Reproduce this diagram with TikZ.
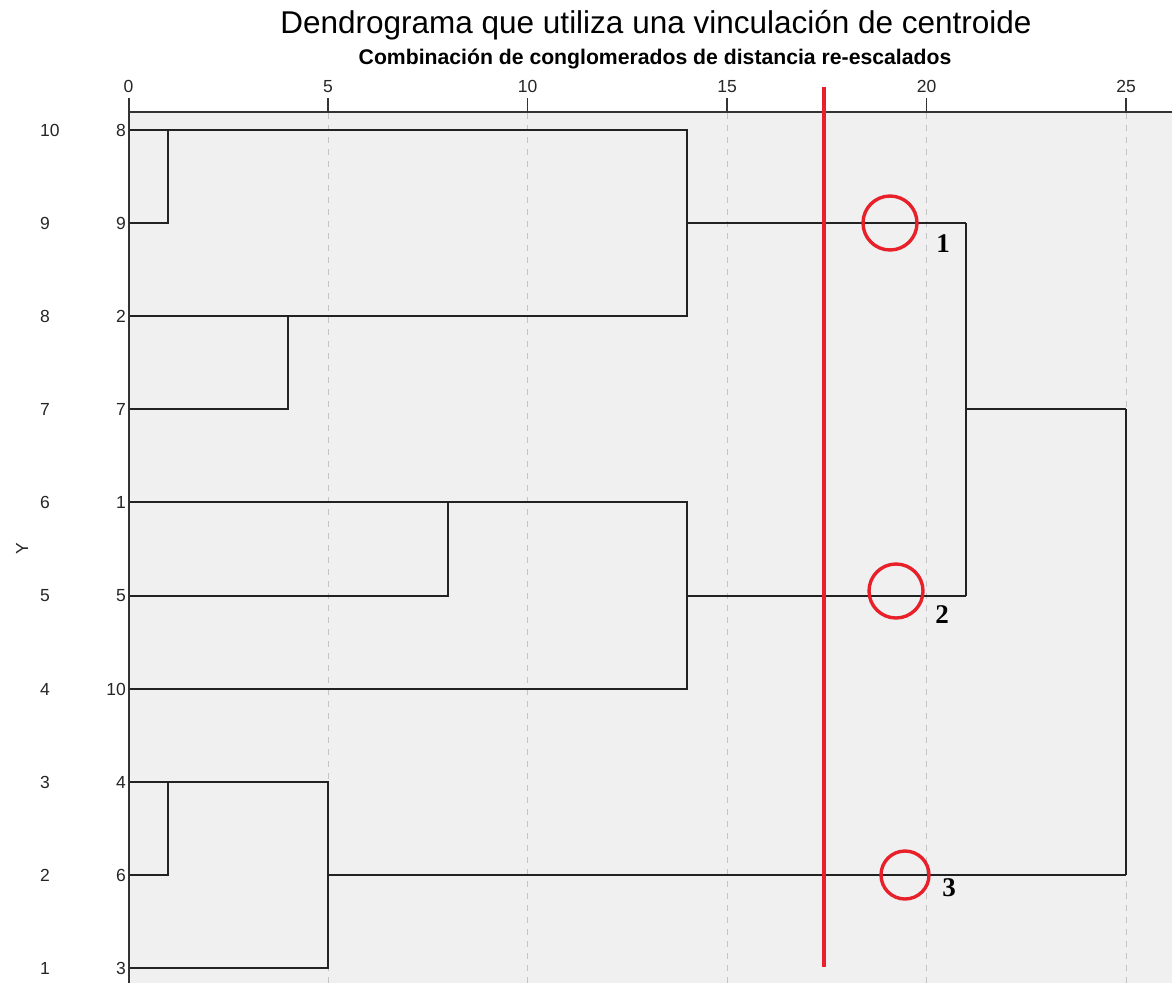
\documentclass[tikz,border=0pt]{standalone}
\usepackage{fontspec}
\setmainfont{Liberation Sans}
\newfontfamily\serifnum{Liberation Serif}
\definecolor{bgray}{HTML}{F0F0F0}
\definecolor{gridc}{HTML}{C4C4C4}
\definecolor{redc}{HTML}{E8202A}
\definecolor{linec}{HTML}{222222}
\begin{document}
\begin{tikzpicture}[x=1pt,y=-1pt,
  link/.style={draw=linec, line width=2pt},
  gridl/.style={draw=gridc, line width=1pt, dash pattern=on 6pt off 6pt},
  axisl/.style={draw=black!80, line width=1.6pt},
  lab/.style={font=\fontsize{17.5}{17.5}\selectfont, text=black!85, inner sep=0pt},
  ticklab/.style={font=\fontsize{17.5}{17.5}\selectfont, text=black!85, inner sep=0pt, anchor=base},
  cutl/.style={draw=redc, line width=3.8pt},
  ring/.style={draw=redc, line width=3.4pt},
  numlab/.style={font=\serifnum\bfseries\fontsize{27}{27}\selectfont, inner sep=0pt, anchor=base}]
\useasboundingbox (0,0) rectangle (1172,983);
\fill[white] (0,0) rectangle (1172,983);
\fill[bgray] (129,112) rectangle (1172,983);
% titles
\node[inner sep=0pt, anchor=base, font=\fontsize{31.5}{31.5}\selectfont] (title) at (656,33) {Dendrograma que utiliza una vinculación de centroide};
\node[inner sep=0pt, anchor=base, font=\bfseries\fontsize{21.2}{21.2}\selectfont] (subtitle) at (655,64) {Combinación de conglomerados de distancia re-escalados};
% grid
\foreach \v in {5,10,15,20,25} {
  \draw[gridl] ({128.5+39.9*\v},113) -- ({128.5+39.9*\v},983);
}
% axis
\draw[axisl] (129,112) -- (1172,112);
\draw[axisl] (129,98) -- (129,983);
\foreach \v in {0,5,10,15,20,25} {
  \draw[axisl] ({128.5+39.9*\v},98) -- ({128.5+39.9*\v},112);
  \node[ticklab] (t\v) at ({128.5+39.9*\v},92) {\v};
}
% leaves
\foreach \name/\yy [count=\i] in {8/130, 9/223, 2/316, 7/409, 1/502, 5/596, 10/689, 4/782, 6/875, 3/968} {
  \pgfmathtruncatemacro{\yv}{11-\i}
  \node[lab, anchor=east] (L\name) at (126,\yy) {\name};
  \node[lab, anchor=west] (Y\name) at (40,\yy) {\yv};
  \coordinate (P\name) at (130,\yy);
}
\node[lab, rotate=90] (ylab) at (22,549) {Y};
% merge points
\coordinate (a89) at (168.4,130);
\coordinate (a27) at (288.1,316);
\coordinate (c1t) at (687.1,130);
\coordinate (c1b) at (687.1,316);
\coordinate (c1m) at (687.1,223);
\coordinate (a15) at (447.7,502);
\coordinate (c2t) at (687.1,502);
\coordinate (c2b) at (687.1,689);
\coordinate (c2m) at (687.1,596);
\coordinate (dt) at (966.4,223);
\coordinate (db) at (966.4,596);
\coordinate (dm) at (966.4,409);
\coordinate (a46) at (168.4,782);
\coordinate (a463) at (328,782);
\coordinate (a463b) at (328,968);
\coordinate (c3m) at (328,875);
\coordinate (et) at (1126,409);
\coordinate (eb) at (1126,875);
% cluster 1
\draw[link] (P8) -- (a89) -- (c1t) -- (c1b) -- (a27) -- (P2);
\draw[link] (P9) -| (a89);
\draw[link] (P7) -| (a27);
\draw[link] (c1m) -- (dt);
% cluster 2
\draw[link] (P1) -- (a15) -- (c2t) -- (c2b) -- (P10);
\draw[link] (P5) -| (a15);
\draw[link] (c2m) -- (db);
% join 1-2
\draw[link] (dt) -- (db);
\draw[link] (dm) -- (et);
% cluster 3
\draw[link] (P4) -- (a46) -- (a463) -- (a463b) -- (P3);
\draw[link] (P6) -| (a46);
\draw[link] (c3m) -- (eb);
\draw[link] (et) -- (eb);
% cut line
\coordinate (cut1) at (824,87);
\coordinate (cut2) at (824,967);
\draw[cutl] (cut1) -- (cut2);
% circles
\node[ring, circle, minimum size=54pt, inner sep=0pt] (r1) at (890,223) {};
\node[ring, circle, minimum size=54pt, inner sep=0pt] (r2) at (896,591) {};
\node[ring, circle, minimum size=48pt, inner sep=0pt] (r3) at (905,875) {};
\node[numlab] (n1) at (943,252) {1};
\node[numlab] (n2) at (942,623) {2};
\node[numlab] (n3) at (949,896) {3};
\end{tikzpicture}
\end{document}
